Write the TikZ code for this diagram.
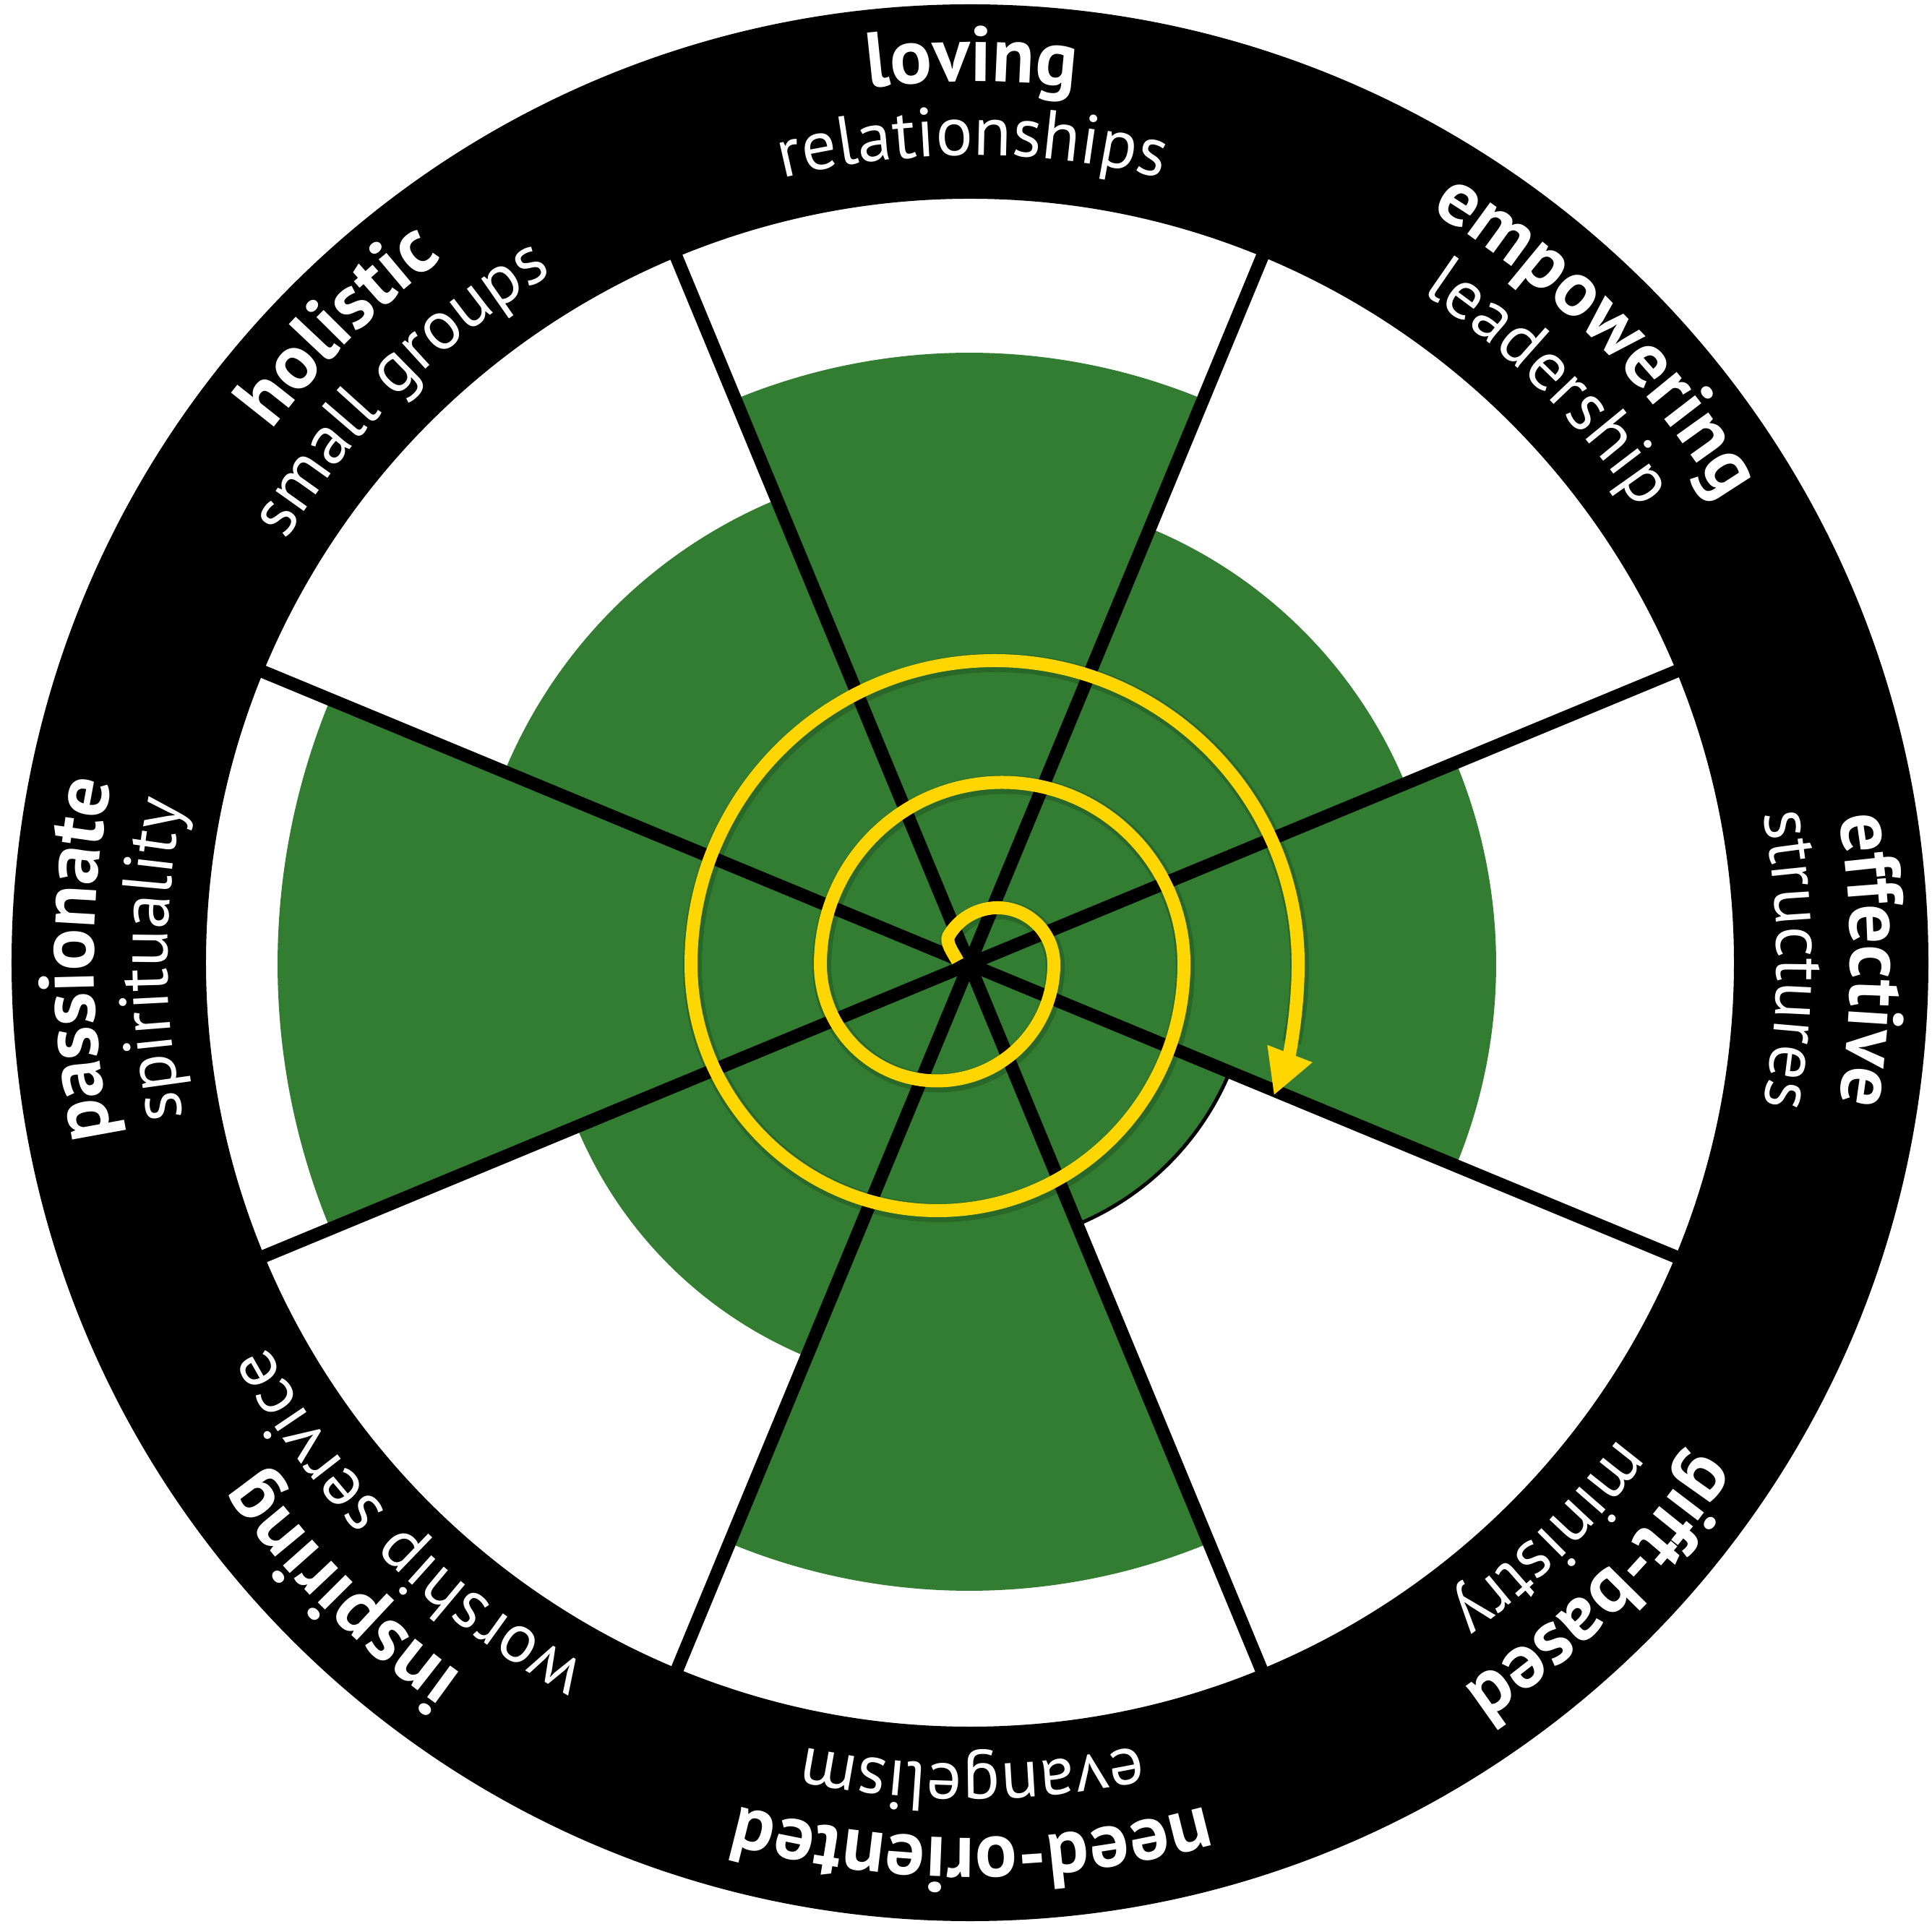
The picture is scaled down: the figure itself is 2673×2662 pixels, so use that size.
\documentclass[tikz,border=0pt]{standalone}
\usepackage{fontspec}
\newfontfamily\labfont{PT Sans}
\usetikzlibrary{decorations.text,arrows.meta}
\definecolor{ncdgreen}{RGB}{50,125,50}
\definecolor{ncdyellow}{RGB}{255,214,0}
\newcommand{\boldlab}{\labfont\bfseries\fontsize{27}{32}\selectfont}
\newcommand{\reglab}{\labfont\fontsize{24}{29}\selectfont}
\newcommand{\ringtext}[4]{%
  \path[decorate, decoration={text along path, text={|#3|#4}, text align=center, text color=white}]
    (#1+60:#2) arc[start angle=#1+60, end angle=#1-60, radius=#2];}
\begin{document}
\begin{tikzpicture}[x=0.25pt,y=0.25pt,
  spoke/.style={line width=4.5pt, black},
  wedge/.style={fill=ncdgreen},
  spiralline/.style={line width=4.5pt, ncdyellow},
  spiralshadow/.style={line width=6.5pt, black, opacity=0.16}]
\useasboundingbox (-1341,-1328) rectangle (1332,1334);
% green wedges
\foreach \a/\r in {0/729,45/653,90/846,135/696,180/957,225/588,270/867,315/390} {
  \fill[wedge] (0,0) -- (\a-22.5:\r) arc[start angle=\a-22.5, end angle=\a+22.5, radius=\r] -- cycle;
}
\draw[line width=1.25pt] (292.5:390) arc[start angle=292.5, end angle=337.5, radius=390];
% spokes
\foreach \a in {22.5,67.5,112.5,157.5} {
  \draw[spoke] (\a:1070) -- (\a+180:1070);
}
% ring
\fill[black, even odd rule] (1,2) circle[radius=1326] (1,2) circle[radius=1057];
% spiral shadow
\begin{scope}[shift={(2,-3)}]
\draw[spiralshadow] (-16,4) .. controls (-21,14) and (-33.5,30) .. (-28.5,39)
  arc[start angle=150, end angle=0, radius=78]
  arc[start angle=0, end angle=-180, radius=161.5]
  arc[start angle=180, end angle=0, radius=251.5]
  arc[start angle=0, end angle=-180, radius=341]
  arc[start angle=180, end angle=0, radius=420]
  arc[start angle=0, end angle=-12, radius=507];
\end{scope}
% spiral
\draw[spiralline, -{Triangle[length=15.5pt, width=15.5pt]}]
  (-16,4) .. controls (-21,14) and (-33.5,30) .. (-28.5,39)
  arc[start angle=150, end angle=0, radius=78]
  arc[start angle=0, end angle=-180, radius=161.5]
  arc[start angle=180, end angle=0, radius=251.5]
  arc[start angle=0, end angle=-180, radius=341]
  arc[start angle=180, end angle=0, radius=420]
  arc[start angle=0, end angle=-21, radius=507];
% labels
\begin{scope}[shift={(4,6)}]
\ringtext{90}{1215}{\boldlab}{loving}
\ringtext{90}{1113}{\reglab}{relationships}
\ringtext{45}{1215}{\boldlab}{empowering}
\ringtext{45}{1113}{\reglab}{leadership}
\ringtext{0}{1215}{\boldlab}{effective}
\ringtext{0}{1113}{\reglab}{structures}
\ringtext{-45}{1215}{\boldlab}{gift-based}
\ringtext{-45}{1113}{\reglab}{ministry}
\ringtext{-90}{1215}{\boldlab}{need-oriented}
\ringtext{-90}{1113}{\reglab}{evangelism}
\ringtext{-135}{1215}{\boldlab}{inspiring}
\ringtext{-135}{1113}{\reglab}{worship service}
\ringtext{180}{1215}{\boldlab}{passionate}
\ringtext{180}{1113}{\reglab}{spirituality}
\ringtext{135}{1215}{\boldlab}{holistic}
\ringtext{135}{1113}{\reglab}{small groups}
\end{scope}
\end{tikzpicture}
\end{document}
